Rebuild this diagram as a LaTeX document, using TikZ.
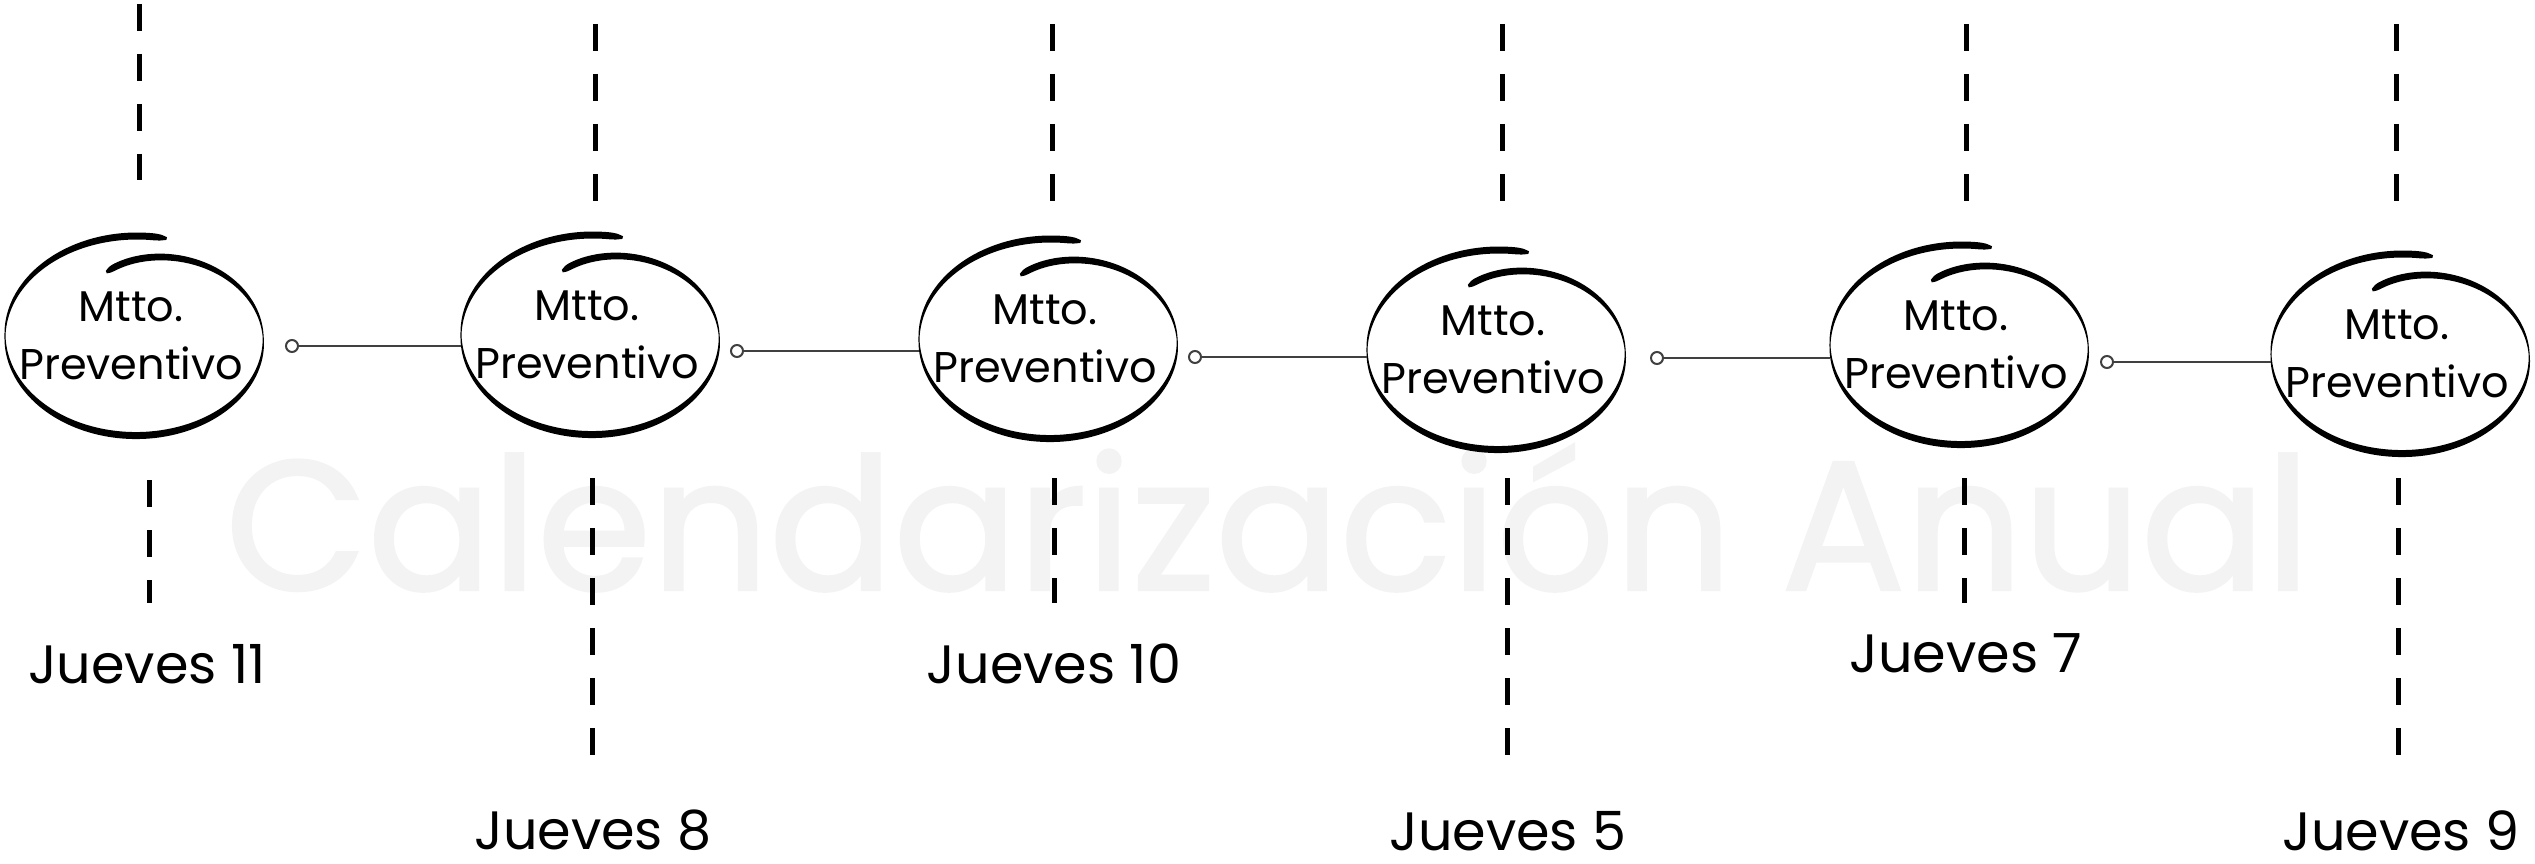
\documentclass[tikz,border=0pt]{standalone}
\usepackage{fontspec}
\setmainfont{Poppins}
\newfontfamily\wmfont[FakeBold=1.5]{Poppins}
\usetikzlibrary{shapes.geometric,calc}
\definecolor{wmgray}{HTML}{F3F3F3}
\definecolor{lnkgray}{HTML}{404040}
\tikzset{
  declare function={
    sk(\t)=1-0.32*((\t-77)/393)^6;
    wk(\t)=(1.0+6.0*abs(sin(\t)))*min(1,(\t-77)/6+0.4,(470-\t)/6+0.4);
  },
  sketch/.pic={
    \fill[black]
      plot[domain=77:470, samples=140, smooth, variable=\t]
        ({(132*sk(\t)+wk(\t)/2)*cos(\t)}, {-(100*sk(\t)+wk(\t)/2)*sin(\t)})
      -- plot[domain=470:77, samples=140, smooth, variable=\t]
        ({(132*sk(\t)-wk(\t)/2)*cos(\t)}, {-(100*sk(\t)-wk(\t)/2)*sin(\t)})
      -- cycle;
  },
  mtnode/.style={shape=ellipse, minimum width=263pt, minimum height=195pt,
    inner sep=0pt},
  mttext/.style={inner sep=0pt, align=center, font=\fontsize{43}{58}\selectfont},
  daylabel/.style={font=\fontsize{54}{60}\selectfont, inner sep=0pt},
  dashline/.style={line width=5pt, dash pattern=on 27pt off 23pt, black},
  link/.style={line width=2pt, lnkgray},
  knob/.style={line width=2pt, lnkgray, fill=white},
}
\begin{document}
\begin{tikzpicture}[x=1pt, y=-1pt]
\path[use as bounding box, fill=white] (0,0) rectangle (2535,864);

% watermark
\node[font=\wmfont\fontsize{184}{190}\selectfont, text=wmgray, inner sep=0pt] (wm) at (1268,518) {Calendarización Anual};

% dashed time lines
\coordinate (t1a) at (139,4);    \coordinate (t1b) at (139,180);
\coordinate (t2a) at (595,24);   \coordinate (t2b) at (595,202);
\coordinate (t3a) at (1052,24);  \coordinate (t3b) at (1052,202);
\coordinate (t4a) at (1502,24);  \coordinate (t4b) at (1502,202);
\coordinate (t5a) at (1966,24);  \coordinate (t5b) at (1966,202);
\coordinate (t6a) at (2396,24);  \coordinate (t6b) at (2396,202);
\coordinate (b1a) at (149,480);  \coordinate (b1b) at (149,603);
\coordinate (b2a) at (592,478);  \coordinate (b2b) at (592,760);
\coordinate (b3a) at (1054,478); \coordinate (b3b) at (1054,603);
\coordinate (b4a) at (1507,478); \coordinate (b4b) at (1507,760);
\coordinate (b5a) at (1964,478); \coordinate (b5b) at (1964,603);
\coordinate (b6a) at (2398,478); \coordinate (b6b) at (2398,760);
\foreach \i in {1,...,6} {
  \draw[dashline] (t\i a) -- (t\i b);
  \draw[dashline] (b\i a) -- (b\i b);
}

% nodes (ellipse outlines) and their text
\node[mtnode] (n1) at (137,336) {};
\node[mtnode] (n2) at (593,335) {};
\node[mtnode] (n3) at (1051,339) {};
\node[mtnode] (n4) at (1499,350) {};
\node[mtnode] (n5) at (1962,345) {};
\node[mtnode] (n6) at (2403,354) {};
\foreach \i in {1,...,6} {
  \pic at (n\i) {sketch};
  \node[mttext] (m\i) at ([xshift=-6pt]n\i.center) {Mtto.\\Preventivo};
}

% connectors
\coordinate (k1) at (292,346);
\coordinate (k2) at (737,351);
\coordinate (k3) at (1195,357);
\coordinate (k4) at (1657,358);
\coordinate (k5) at (2107,362);
\draw[link] (k1) -- (k1 -| n2.west);
\draw[link] (k2) -- (k2 -| n3.west);
\draw[link] (k3) -- (k3 -| n4.west);
\draw[link] (k4) -- (k4 -| n5.west);
\draw[link] (k5) -- (k5 -| n6.west);
\foreach \i in {1,...,5} { \draw[knob] (k\i) circle (6pt); }

% labels
\node[daylabel] (d1) at (147,664) {Jueves 11};
\node[daylabel] (d2) at (593,830) {Jueves 8};
\node[daylabel] (d3) at (1054,664) {Jueves 10};
\node[daylabel] (d4) at (1508,831) {Jueves 5};
\node[daylabel] (d5) at (1966,653) {Jueves 7};
\node[daylabel] (d6) at (2401,831) {Jueves 9};
\end{tikzpicture}
\end{document}
